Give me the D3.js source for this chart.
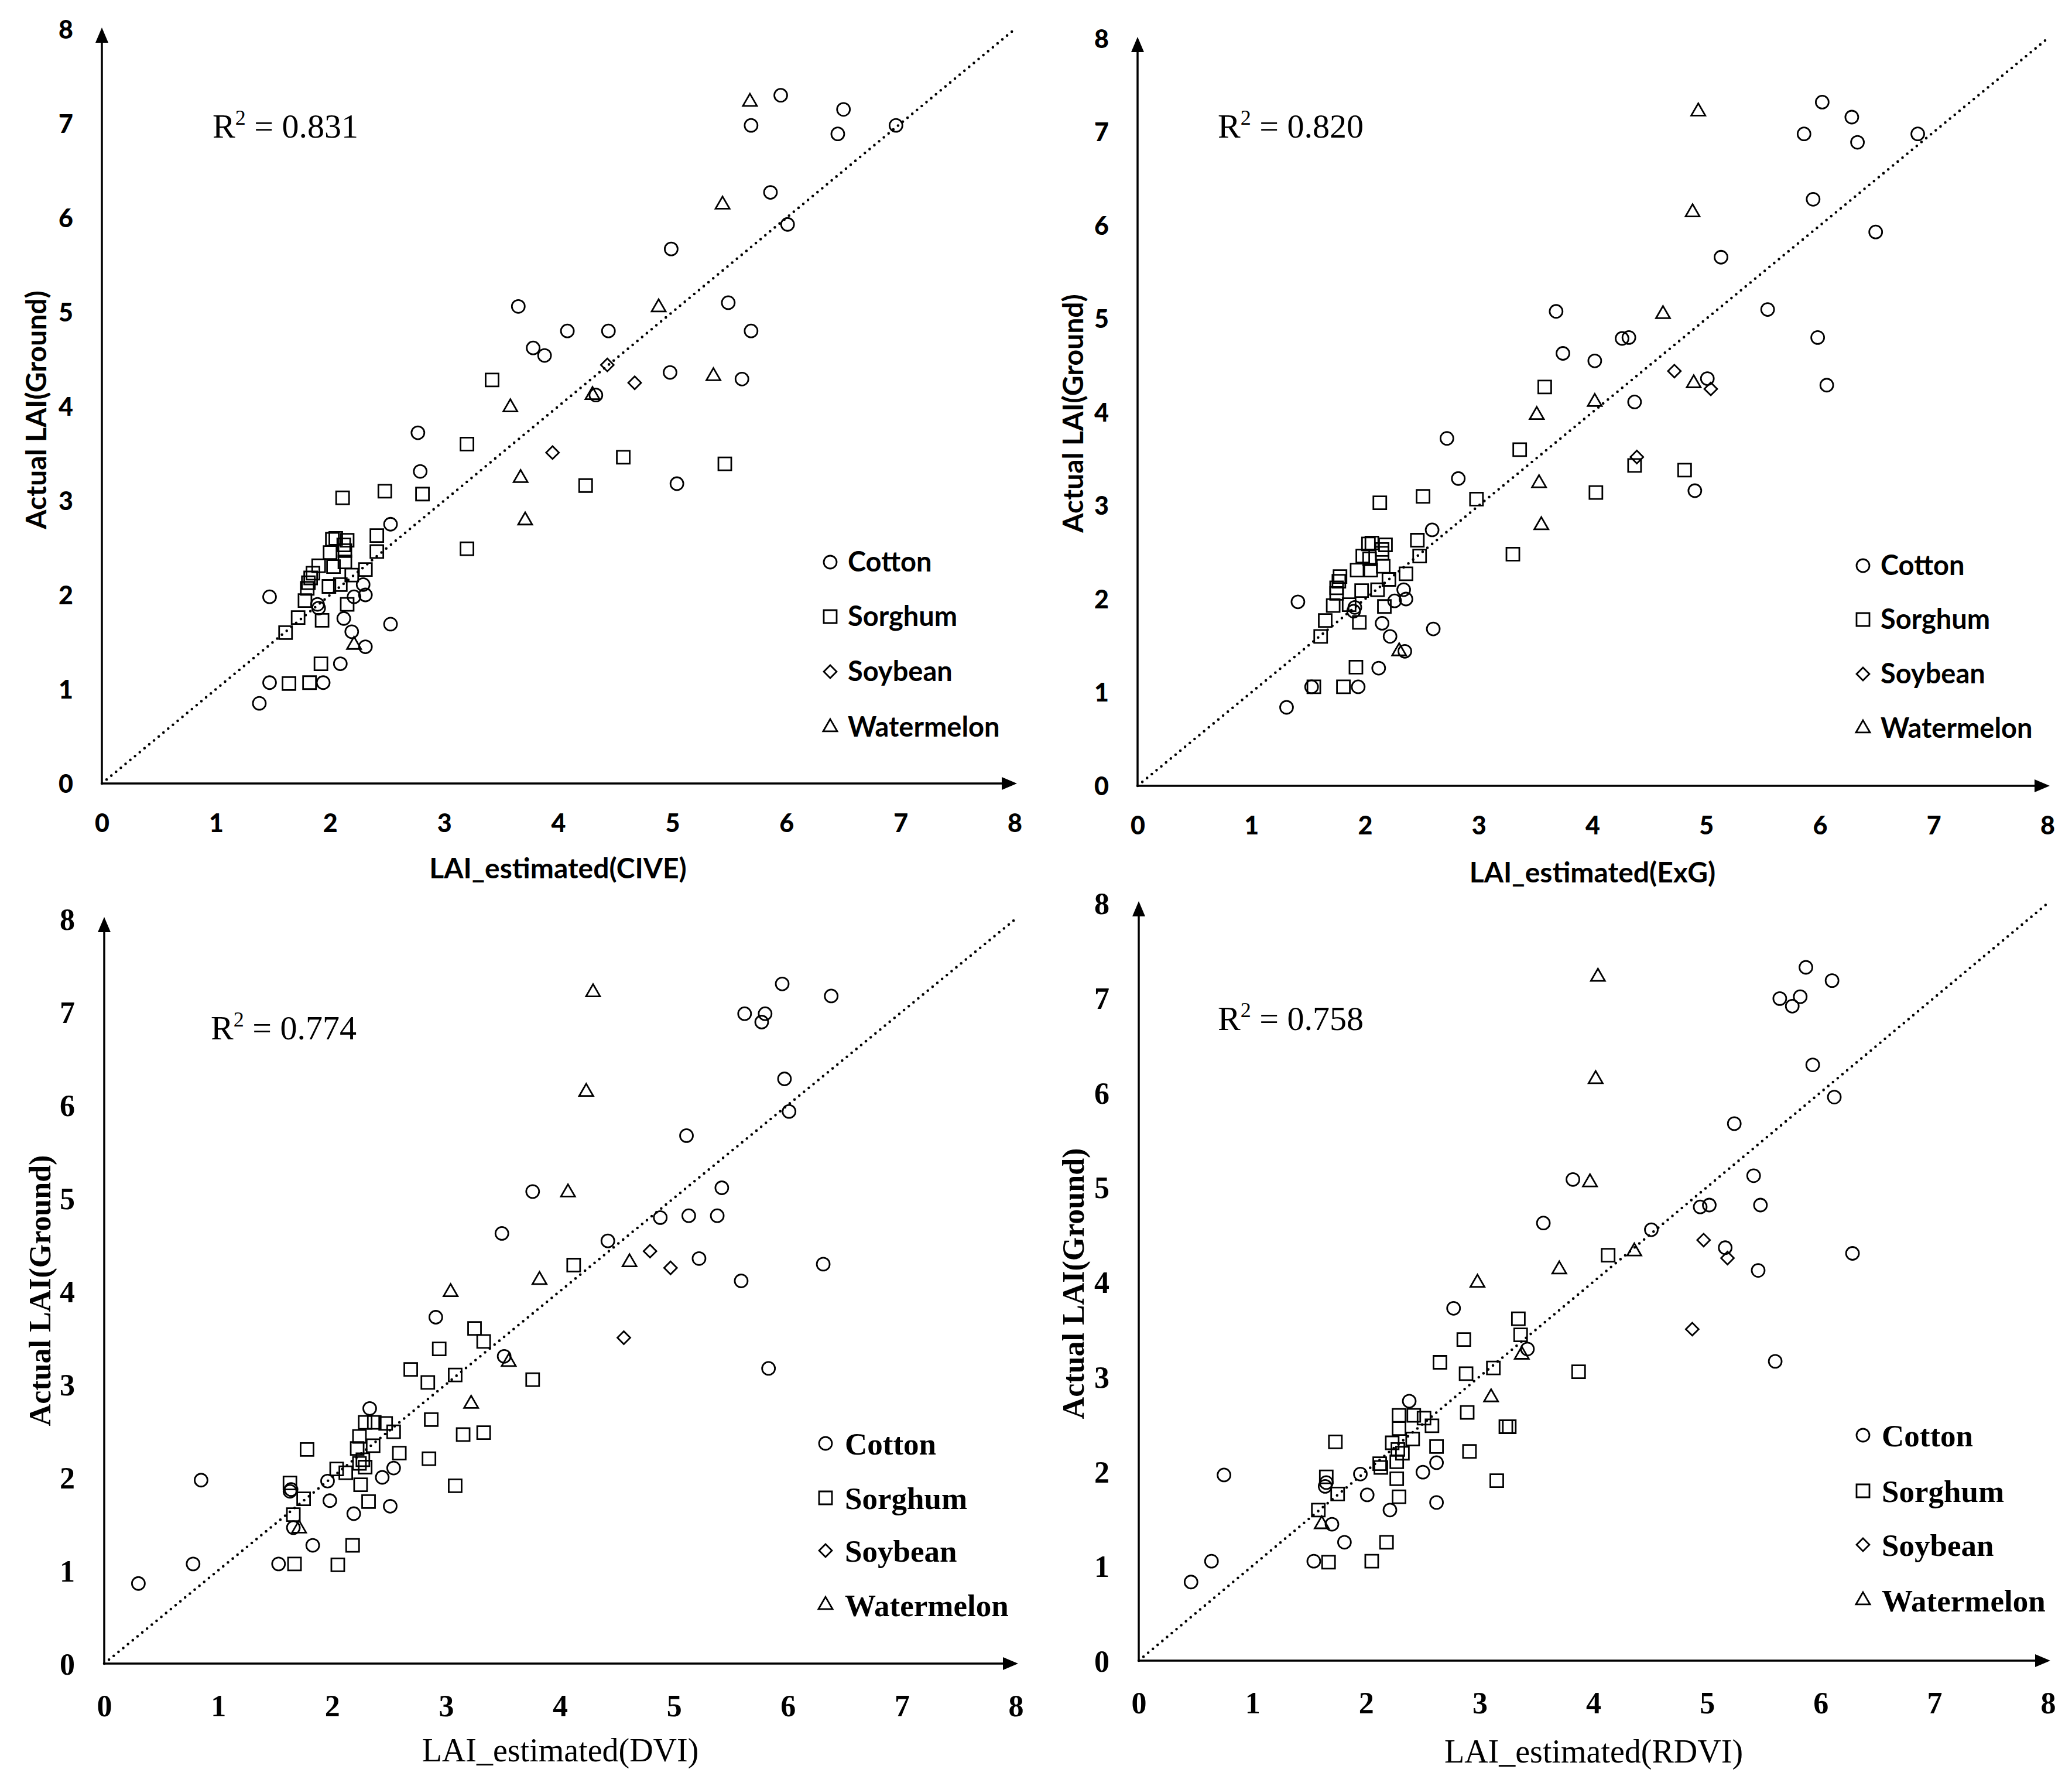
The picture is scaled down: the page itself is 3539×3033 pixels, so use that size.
<!DOCTYPE html>
<html><head><meta charset="utf-8">
<script src="https://cdn.jsdelivr.net/npm/d3@7"></script>
<style>body{margin:0;background:#fff}</style>
</head><body>
<svg id="chart" width="3539" height="3033"></svg>
<script>
// ---------- DATA ----------
const species = ["Cotton", "Sorghum", "Soybean", "Watermelon"];
const indexNames = ["CIVE", "ExG", "DVI", "RDVI"];
const r2Values = ["0.831", "0.820", "0.774", "0.758"];
const tickValues = [0, 1, 2, 3, 4, 5, 6, 7, 8];
const yLabelText = "Actual LAI(Ground)";

// [LAI_estimated, Actual LAI]
const civeCotton = [[5.95,7.30],[6.50,7.15],[5.69,6.98],[6.45,6.89],[6.96,6.98],[5.86,6.27],[6.01,5.93],[4.99,5.67],[3.65,5.06],[5.49,5.10],[4.08,4.80],[4.44,4.80],[5.69,4.80],[3.78,4.62],[3.88,4.54],[4.98,4.36],[5.61,4.29],[4.33,4.12],[2.77,3.72],[2.79,3.31],[5.04,3.18],[2.53,2.75],[2.29,2.11],[2.31,2.00],[2.21,1.98],[1.47,1.98],[1.89,1.90],[1.90,1.86],[2.12,1.75],[2.19,1.61],[2.53,1.69],[2.31,1.45],[2.09,1.27],[1.47,1.07],[1.94,1.07],[1.38,0.85]];
const civeSorghum = [[3.42,4.28],[3.20,3.60],[4.57,3.46],[5.46,3.39],[4.24,3.16],[3.20,2.49],[2.48,3.10],[2.81,3.07],[2.11,3.03],[2.41,2.63],[2.41,2.46],[2.31,2.27],[2.02,2.59],[2.05,2.60],[2.15,2.58],[2.12,2.53],[2.13,2.47],[2.00,2.45],[2.13,2.35],[1.90,2.31],[2.03,2.30],[2.19,2.21],[1.85,2.23],[1.83,2.18],[1.81,2.13],[1.80,2.07],[1.99,2.09],[2.09,2.11],[1.78,1.94],[2.15,1.90],[1.72,1.76],[1.93,1.73],[1.61,1.60],[1.92,1.27],[1.64,1.06],[1.82,1.07]];
const civeSoybean = [[4.43,4.44],[4.67,4.25],[3.95,3.51]];
const civeWatermelon = [[5.68,7.23],[5.44,6.14],[4.88,5.05],[5.36,4.32],[4.30,4.12],[3.58,3.99],[3.67,3.24],[3.71,2.79],[2.21,1.47]];

const exgCotton = [[6.02,7.32],[6.28,7.16],[5.86,6.98],[6.33,6.89],[6.86,6.98],[5.94,6.28],[6.49,5.93],[5.13,5.66],[3.68,5.08],[5.54,5.10],[4.26,4.79],[4.32,4.80],[5.98,4.80],[3.74,4.63],[4.02,4.55],[5.01,4.36],[6.06,4.29],[4.37,4.11],[2.72,3.72],[2.82,3.29],[4.90,3.16],[2.59,2.74],[2.34,2.10],[2.36,2.00],[2.26,1.98],[1.41,1.97],[1.90,1.87],[1.91,1.91],[2.15,1.74],[2.22,1.60],[2.60,1.68],[2.35,1.44],[2.12,1.26],[1.53,1.06],[1.94,1.06],[1.31,0.84]];
const exgSorghum = [[3.58,4.27],[3.36,3.60],[4.37,3.43],[4.81,3.38],[4.03,3.14],[3.30,2.48],[2.13,3.03],[2.51,3.10],[2.98,3.07],[2.46,2.63],[2.48,2.46],[2.36,2.27],[2.03,2.59],[2.06,2.60],[2.18,2.58],[2.15,2.53],[2.15,2.49],[1.98,2.46],[2.04,2.43],[2.16,2.35],[1.93,2.31],[2.05,2.31],[2.21,2.21],[1.78,2.24],[1.77,2.19],[1.75,2.12],[1.75,2.06],[1.97,2.09],[2.11,2.10],[1.72,1.93],[1.86,1.94],[2.17,1.92],[1.65,1.77],[1.95,1.75],[1.61,1.60],[1.92,1.27],[1.55,1.06],[1.81,1.06]];
const exgSoybean = [[4.72,4.44],[5.04,4.25],[4.39,3.52]];
const exgWatermelon = [[4.93,7.22],[4.88,6.14],[4.62,5.05],[4.89,4.31],[4.02,4.11],[3.51,3.97],[3.53,3.24],[3.55,2.79],[2.30,1.44]];

const dviCotton = [[5.95,7.30],[6.38,7.17],[5.62,6.98],[5.80,6.98],[5.77,6.89],[5.97,6.28],[6.01,5.93],[5.11,5.67],[3.76,5.07],[5.42,5.11],[4.88,4.79],[5.13,4.81],[5.38,4.81],[3.49,4.62],[4.42,4.54],[5.22,4.35],[6.31,4.29],[5.59,4.11],[2.91,3.72],[3.51,3.30],[5.83,3.17],[2.33,2.74],[2.54,2.10],[2.44,2.00],[1.96,1.96],[0.85,1.97],[1.64,1.87],[1.63,1.85],[1.98,1.75],[2.19,1.61],[2.51,1.69],[1.66,1.46],[1.83,1.27],[0.78,1.07],[1.53,1.07],[0.30,0.86]];
const dviSorghum = [[4.12,4.28],[3.25,3.60],[3.33,3.46],[2.94,3.38],[2.69,3.16],[3.08,3.10],[2.84,3.02],[3.76,3.05],[2.87,2.62],[3.15,2.46],[3.33,2.48],[2.85,2.20],[3.08,1.91],[2.59,2.26],[1.78,2.30],[2.29,2.59],[2.37,2.59],[2.47,2.58],[2.54,2.49],[2.24,2.44],[2.36,2.34],[2.22,2.31],[2.27,2.19],[2.24,2.15],[2.29,2.11],[2.04,2.09],[2.12,2.05],[2.25,1.92],[1.63,1.94],[1.75,1.77],[1.66,1.60],[2.32,1.74],[2.18,1.27],[1.67,1.07],[2.05,1.06]];
const dviSoybean = [[4.79,4.43],[4.97,4.25],[4.56,3.50]];
const dviWatermelon = [[4.29,7.21],[4.23,6.14],[4.07,5.06],[4.61,4.31],[3.82,4.12],[3.04,3.99],[3.55,3.24],[3.22,2.79],[1.71,1.45]];

const rdviCotton = [[5.87,7.32],[6.10,7.18],[5.64,6.99],[5.82,7.01],[5.75,6.91],[5.93,6.29],[6.12,5.95],[5.24,5.67],[3.82,5.08],[5.41,5.12],[4.94,4.79],[5.02,4.81],[5.47,4.81],[3.56,4.62],[4.51,4.55],[5.16,4.36],[6.28,4.30],[5.45,4.12],[2.77,3.72],[3.42,3.29],[5.60,3.16],[2.38,2.74],[2.62,2.09],[2.50,1.99],[1.95,1.97],[0.75,1.96],[1.64,1.84],[1.65,1.88],[2.01,1.75],[2.21,1.59],[2.62,1.67],[1.70,1.44],[1.81,1.25],[0.64,1.05],[1.54,1.05],[0.46,0.83]];
const rdviSorghum = [[4.13,4.28],[3.34,3.61],[3.36,3.44],[2.86,3.39],[2.65,3.15],[2.88,3.03],[3.12,3.09],[3.87,3.05],[2.89,2.62],[3.23,2.47],[3.26,2.47],[2.91,2.21],[3.15,1.90],[2.62,2.26],[1.73,2.31],[2.29,2.59],[2.42,2.59],[2.51,2.56],[2.58,2.48],[2.29,2.45],[2.41,2.34],[2.23,2.30],[2.28,2.23],[2.32,2.19],[2.27,2.10],[2.12,2.08],[2.13,2.04],[2.27,1.92],[1.65,1.94],[1.75,1.76],[1.58,1.59],[2.29,1.73],[2.18,1.25],[1.67,1.04],[2.05,1.05]];
const rdviSoybean = [[4.97,4.44],[5.18,4.25],[4.87,3.50]];
const rdviWatermelon = [[4.04,7.22],[4.02,6.14],[3.97,5.05],[4.36,4.32],[3.70,4.13],[2.98,3.99],[3.37,3.23],[3.10,2.78],[1.61,1.44]];

const panelSeries = [
  [civeCotton, civeSorghum, civeSoybean, civeWatermelon],
  [exgCotton, exgSorghum, exgSoybean, exgWatermelon],
  [dviCotton, dviSorghum, dviSoybean, dviWatermelon],
  [rdviCotton, rdviSorghum, rdviSoybean, rdviWatermelon]
];

// ---------- LAYOUT ----------
const SANS = "Lato, 'Open Sans', 'Liberation Sans', sans-serif";
const SERIF = "'Liberation Serif', 'DejaVu Serif', serif";
const layouts = [
  {x0:174, x8:1733, y0:1338, y8:50, sans:true, r2x:363, r2y:235, lgx:1418, lgTx:1448, lgy:[960,1053,1147,1242], xtx:953, xty:1483, ytx:62, yty:700},
  {x0:1943, x8:3497, y0:1342, y8:66, sans:true, r2x:2080, r2y:235, lgx:3182, lgTx:3212, lgy:[966,1058,1151,1244], xtx:2720, xty:1490, ytx:1833, yty:706},
  {x0:178, x8:1735, y0:2841, y8:1569, sans:false, r2x:360, r2y:1775, lgx:1410, lgTx:1443, lgy:[2465,2558,2648,2741], xtx:957, xty:2988, ytx:68, yty:2204},
  {x0:1945, x8:3498, y0:2836, y8:1542, sans:false, r2x:2080, r2y:1759, lgx:3182, lgTx:3214, lgy:[2451,2546,2638,2733], xtx:2722, xty:2990, ytx:1833, yty:2192}
];

const svg = d3.select("#chart");
svg.append("rect").attr("width", 3539).attr("height", 3033).attr("fill", "#fff");

const symGens = [
  d3.symbol().type(d3.symbolCircle).size(Math.PI * 11 * 11),
  d3.symbol().type(d3.symbolSquare).size(22 * 22),
  d3.symbol().type(d3.symbolSquare).size(15.5 * 15.5),
  d3.symbol().type(d3.symbolTriangle).size(250)
];
const symRotate = [0, 0, 45, 0];

layouts.forEach((L, i) => {
  const x = d3.scaleLinear().domain([0, 8]).range([L.x0, L.x8]);
  const y = d3.scaleLinear().domain([0, 8]).range([L.y0, L.y8]);
  const g = svg.append("g");
  const fam = L.sans ? SANS : SERIF;
  const tickSize = L.sans ? 43 : 52;

  // 1:1 dotted line
  g.append("line")
    .attr("x1", x(0)).attr("y1", y(0)).attr("x2", x(8)).attr("y2", y(8))
    .attr("stroke", "#000").attr("stroke-width", 4.6)
    .attr("stroke-dasharray", "0,10.5").attr("stroke-linecap", "round");

  // axes (tick labels via d3 axes)
  const xa = g.append("g").attr("transform", `translate(0,${L.y0})`)
    .call(d3.axisBottom(x).tickValues(tickValues).tickSize(0).tickFormat(d3.format("d")));
  xa.select(".domain").remove();
  xa.attr("font-family", fam).attr("font-size", tickSize).attr("font-weight", L.sans ? 900 : "bold");
  xa.selectAll("text").attr("y", L.sans ? 68 : 71).attr("dy", "0.36em").attr("fill", "#000");

  const ya = g.append("g").attr("transform", `translate(${L.x0},0)`)
    .call(d3.axisLeft(y).tickValues(tickValues).tickSize(0).tickFormat(d3.format("d")));
  ya.select(".domain").remove();
  ya.attr("font-family", fam).attr("font-size", tickSize).attr("font-weight", L.sans ? 900 : "bold");
  ya.selectAll("text").attr("x", L.sans ? -49 : -50).attr("dy", "0.36em").attr("fill", "#000");

  // axis lines with arrowheads
  g.append("line").attr("x1", x(0)).attr("y1", y(0)).attr("x2", x(8) - 10).attr("y2", y(0))
    .attr("stroke", "#000").attr("stroke-width", 3.5);
  g.append("line").attr("x1", x(0)).attr("y1", y(0)).attr("x2", x(0)).attr("y2", y(8) + 10)
    .attr("stroke", "#000").attr("stroke-width", 3.5);
  g.append("path")
    .attr("d", `M${x(8) + 4},${y(0)} L${x(8) - 22},${y(0) - 11} L${x(8) - 22},${y(0) + 11} Z`)
    .attr("fill", "#000");
  g.append("path")
    .attr("d", `M${x(0)},${y(8) - 3} L${x(0) - 11},${y(8) + 23} L${x(0) + 11},${y(8) + 23} Z`)
    .attr("fill", "#000");

  // points
  panelSeries[i].forEach((series, k) => {
    g.selectAll(null).data(series).enter().append("path")
      .attr("transform", d => `translate(${x(d[0])},${y(d[1])}) rotate(${symRotate[k]})`)
      .attr("d", symGens[k])
      .attr("fill", "none").attr("stroke", "#000").attr("stroke-width", 2.8);
  });

  // legend
  species.forEach((s, k) => {
    g.append("path")
      .attr("transform", `translate(${L.lgx},${L.lgy[k]}) rotate(${symRotate[k]})`)
      .attr("d", symGens[k])
      .attr("fill", "none").attr("stroke", "#000").attr("stroke-width", 2.8);
    g.append("text")
      .attr("x", L.lgTx).attr("y", L.lgy[k]).attr("dy", "0.35em")
      .attr("font-family", fam).attr("font-weight", "bold")
      .attr("font-size", L.sans ? 47 : 53)
      .text(s);
  });

  // R² annotation
  const r2 = g.append("text").attr("x", L.r2x).attr("y", L.r2y)
    .attr("font-family", SERIF).attr("font-size", 58);
  r2.append("tspan").text("R");
  r2.append("tspan").attr("font-size", 36).attr("dy", -22).text("2");
  r2.append("tspan").attr("dy", 22).text(" = " + r2Values[i]);

  // axis titles
  g.append("text").attr("x", L.xtx).attr("y", L.xty).attr("dy", "0.35em")
    .attr("text-anchor", "middle")
    .attr("font-family", fam).attr("font-weight", "bold")
    .attr("font-weight", L.sans ? "bold" : "normal")
    .attr("font-size", L.sans ? 48 : 56)
    .text(`LAI_estimated(${indexNames[i]})`);
  g.append("text")
    .attr("transform", `translate(${L.ytx},${L.yty}) rotate(-90)`)
    .attr("dy", "0.35em").attr("text-anchor", "middle")
    .attr("font-family", fam).attr("font-weight", "bold")
    .attr("font-size", L.sans ? 48 : 52)
    .text(yLabelText);
});
</script>
</body></html>
